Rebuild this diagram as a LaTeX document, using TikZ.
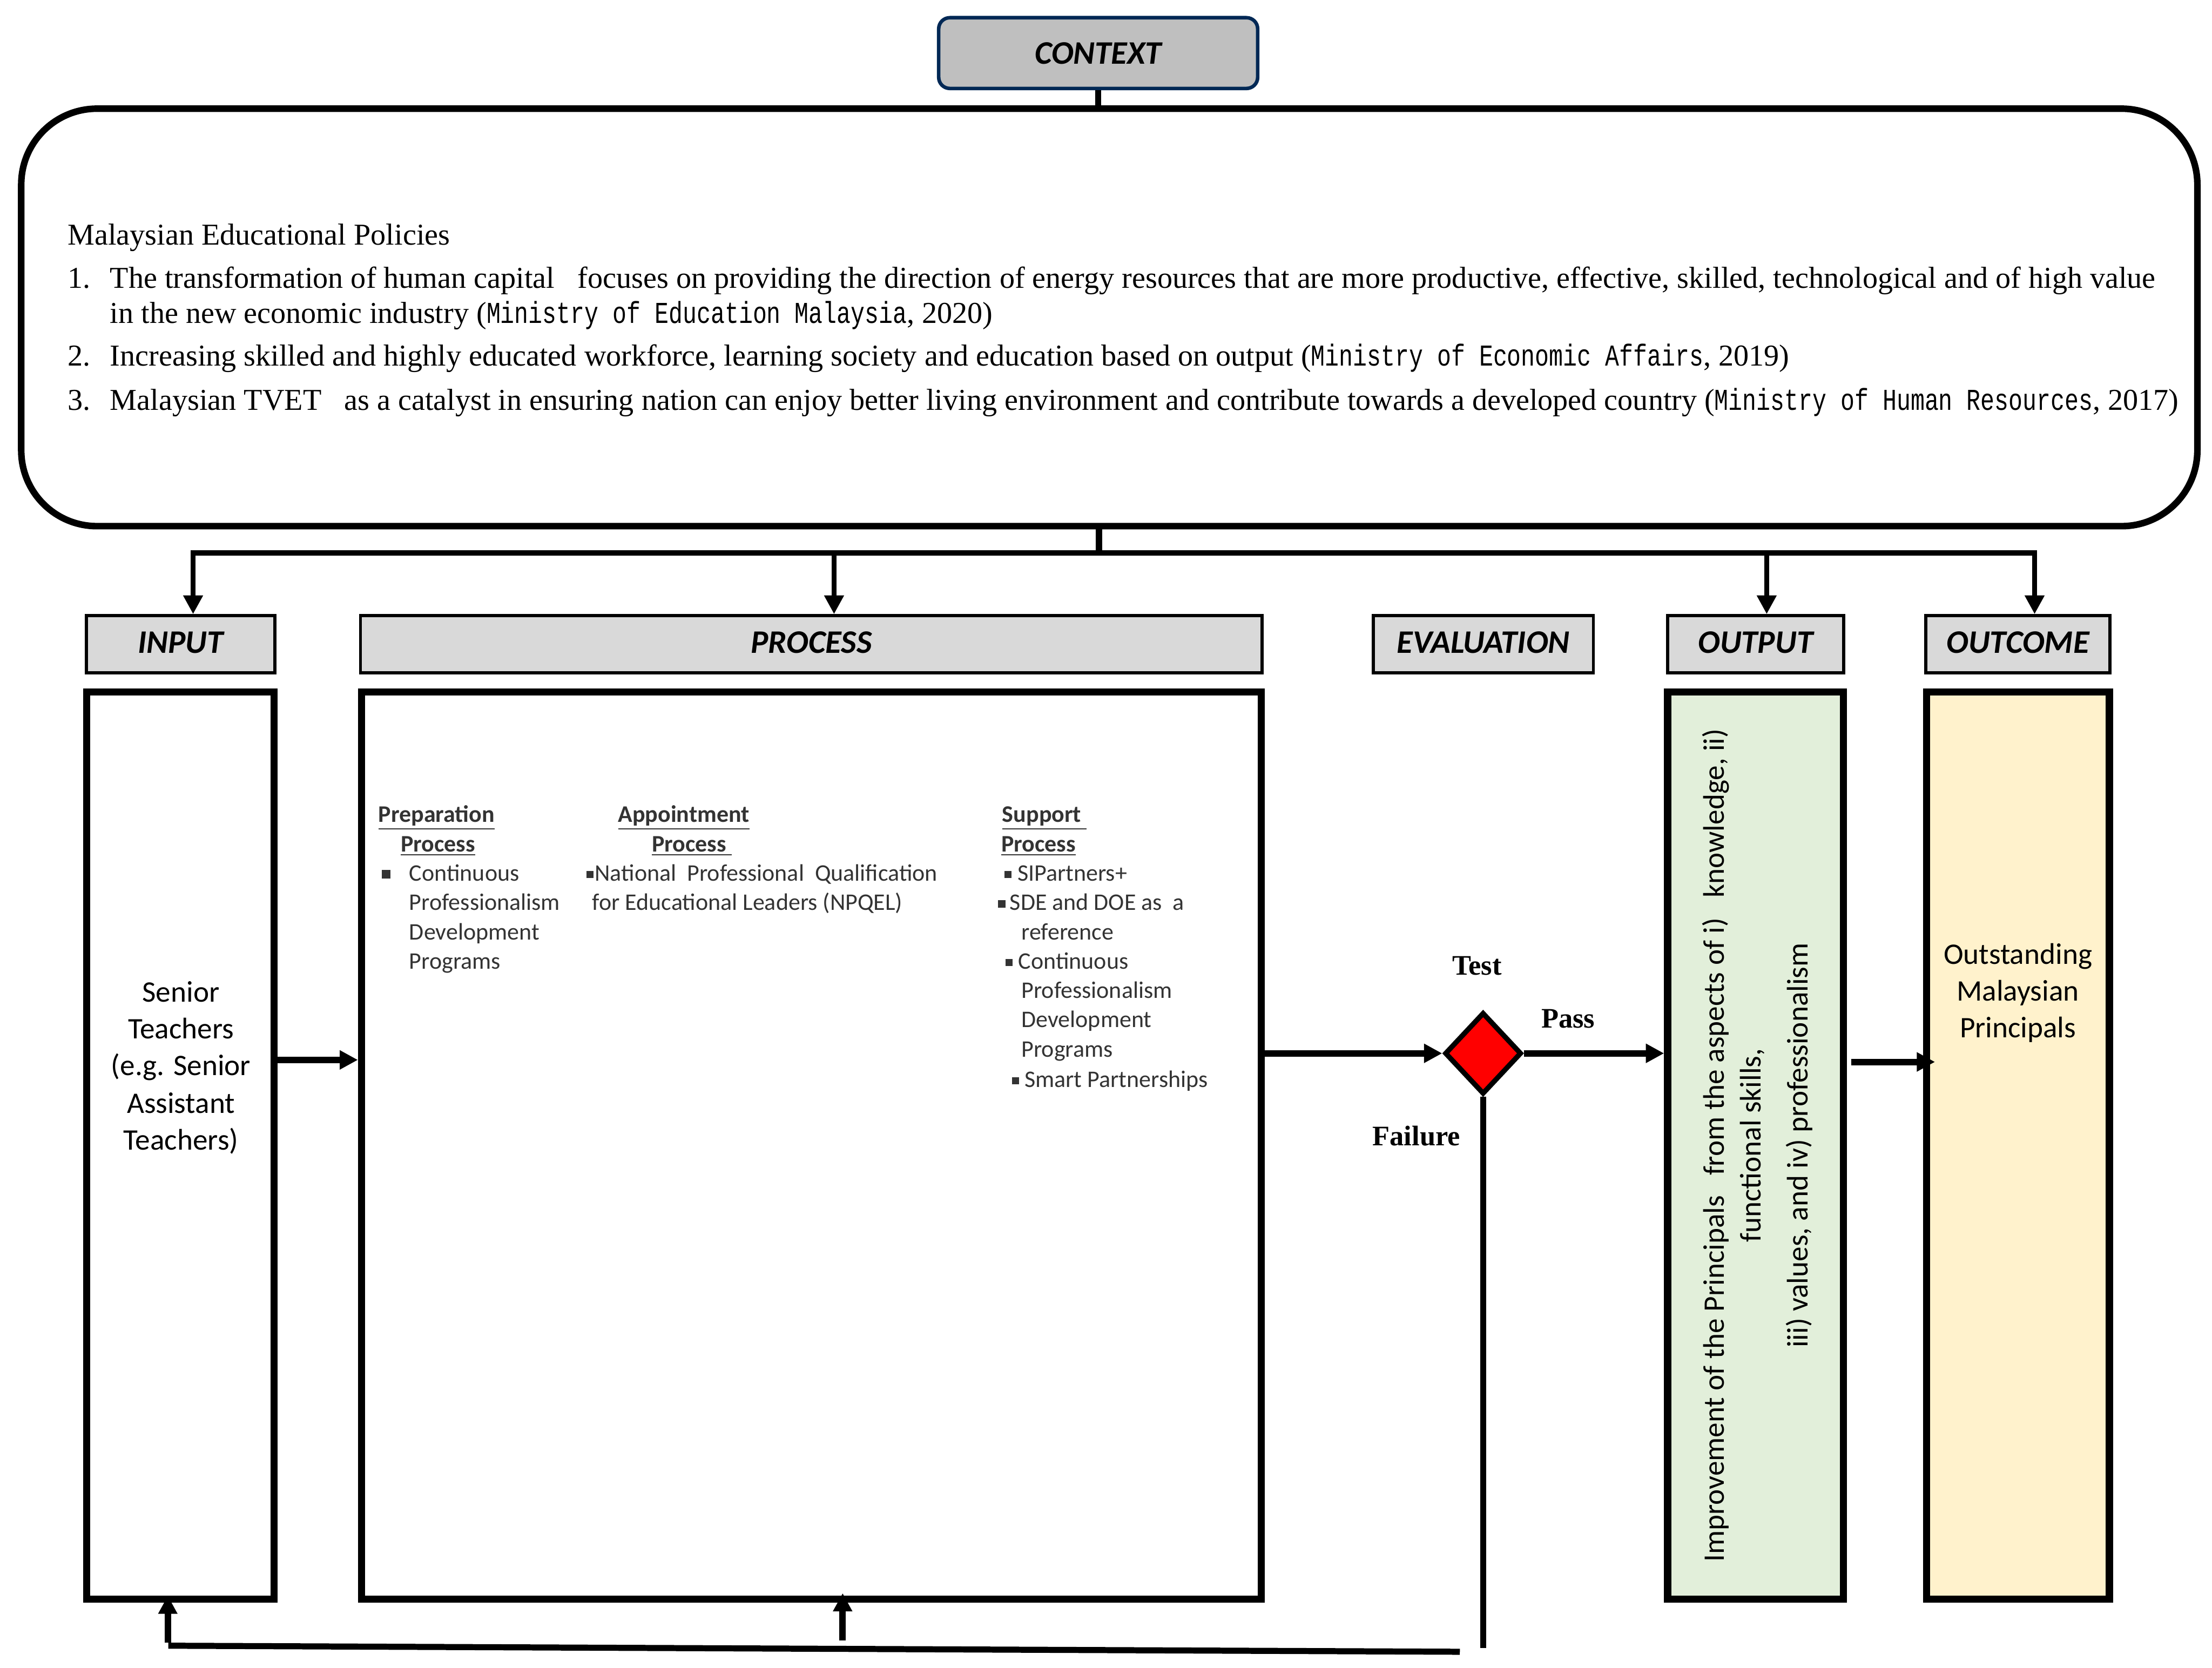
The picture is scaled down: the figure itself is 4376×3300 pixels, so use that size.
\documentclass[tikz,border=0pt]{standalone}
\usepackage{fontspec}
\setmainfont{Liberation Serif}
\newfontfamily\calfont{Carlito}
\newfontfamily\citefont{Liberation Mono}
\usetikzlibrary{arrows.meta,shapes.geometric,calc}
\definecolor{ctxnavy}{RGB}{0,40,85}
\definecolor{ctxgray}{RGB}{191,191,191}
\definecolor{hdrgray}{RGB}{217,217,217}
\definecolor{outgreen}{RGB}{226,239,218}
\definecolor{outcyellow}{RGB}{255,242,204}
\newcommand{\sqb}{\raisebox{0.12em}{\rule{0.3em}{0.3em}}}
\newcommand{\bigsqb}{\raisebox{0.1em}{\rule{0.36em}{0.36em}}}
\newcommand{\cit}[1]{\scalebox{0.77}[1]{\citefont #1}}
\newcommand{\hup}[1]{\raisebox{1.6pt}{#1}}
\begin{document}
\begin{tikzpicture}[x=0.25pt,y=-0.25pt,
  hdr/.style={draw=black,line width=1.5pt,fill=hdrgray,minimum height=28.25pt,inner sep=0pt,
    font=\calfont\bfseries\itshape\fontsize{16.25pt}{19pt}\selectfont},
  mbox/.style={draw=black,line width=3.5pt,minimum height=448.75pt,inner sep=0pt},
  ctxt/.style={anchor=base west,inner sep=0pt,font=\fontsize{15pt}{18pt}\selectfont},
  ptext/.style={anchor=base west,inner sep=0pt,text=black!80,font=\calfont\fontsize{11.75pt}{14pt}\selectfont},
  itext/.style={anchor=base,inner sep=0pt,font=\calfont\fontsize{14.75pt}{18pt}\selectfont},
  otext/.style={rotate=90,inner sep=0pt,font=\calfont\fontsize{14.75pt}{18pt}\selectfont},
  lbl/.style={inner sep=0pt,font=\bfseries\fontsize{14pt}{16pt}\selectfont},
  conn/.style={line width=3pt},
  bus/.style={line width=2.5pt,line cap=rect},
  arrthin/.style={line width=2.6pt,-{Triangle[length=9.25pt,width=9.25pt]}},
  arrthick/.style={line width=3.2pt,-{Triangle[length=9pt,width=9pt]}},
  thk/.style={line width=3pt}]
\useasboundingbox (0,0) rectangle (4376,3300);

% context
\node[draw=ctxnavy,line width=1.75pt,fill=ctxgray,rounded corners=5.5pt,minimum width=157.75pt,
  minimum height=35pt,inner sep=0pt,font=\calfont\bfseries\itshape\fontsize{16.25pt}{19pt}\selectfont]
  (ctx) at (2172.5,105) {CONTEXT};
\node[draw=black,line width=3.25pt,rounded corners=37.5pt,minimum width=1076.25pt,
  minimum height=206.5pt,inner sep=0pt] (big) at (2194.5,628) {};
\draw[conn] (ctx.south) -- (ctx.south |- big.north);

\node[ctxt] (t0) at (133,484) {Malaysian Educational Policies};
\node[ctxt] (n1) at (133,570) {1.};
\node[ctxt] (t1) at (217,570) {The transformation of human capital\ \ \ focuses on providing the direction of energy resources that are more productive, effective, skilled, technological and of high value};
\node[ctxt] (t1b) at (217,639) {in the new economic industry (\cit{Ministry of Education Malaysia}, 2020)};
\node[ctxt] (n2) at (133,724) {2.};
\node[ctxt] (t2) at (217,724) {Increasing skilled and highly educated workforce, learning society and education based on output (\cit{Ministry of Economic Affairs}, 2019)};
\node[ctxt] (n3) at (133,811) {3.};
\node[ctxt] (t3) at (217,811) {Malaysian TVET\ \ \ as a catalyst in ensuring nation can enjoy better living environment and contribute towards a developed country (\cit{Ministry of Human Resources}, 2017)};

% headers
\node[hdr,minimum width=93.25pt] (hin) at (357.5,1274.5) {\hup{INPUT}};
\node[hdr,minimum width=446pt] (hproc) at (1605,1274.5) {\hup{PROCESS}};
\node[hdr,minimum width=108.75pt] (heval) at (2934.5,1274.5) {\hup{EVALUATION}};
\node[hdr,minimum width=87pt] (hout) at (3473,1274.5) {\hup{OUTPUT}};
\node[hdr,minimum width=91pt] (houtc) at (3992,1274.5) {\hup{OUTCOME}};

% bus
\coordinate (bus) at (2174,1094);
\coordinate (d1) at (382,1094);
\coordinate (d2) at (1650,1094);
\coordinate (d3) at (3495,1094);
\coordinate (d4) at (4025,1094);
\draw[conn] (bus |- big.south) -- (bus);
\draw[bus] (d1) -- (d4);
\draw[arrthin] (d1) -- (d1 |- hin.north);
\draw[arrthin] (d2) -- (d2 |- hproc.north);
\draw[arrthin] (d3) -- (d3 |- hout.north);
\draw[arrthin] (d4) -- (d4 |- houtc.north);

% main boxes
\node[mbox,minimum width=92.75pt] (inbox) at (356.5,2266.5) {};
\node[mbox,minimum width=445pt] (procbox) at (1605,2266.5) {};
\node[mbox,minimum width=87pt,fill=outgreen] (outbox) at (3473,2266.5) {};
\node[mbox,minimum width=90.5pt,fill=outcyellow] (outcbox) at (3992,2266.5) {};

% input text
\node[itext] (i1) at (358,1982) {Senior};
\node[itext] (i2) at (358,2055) {Teachers};
\node[itext] (i3) at (358,2128) {(e.g. Senior};
\node[itext] (i4) at (358,2202) {Assistant};
\node[itext] (i5) at (358,2275) {Teachers)};

% process column 1
\node[ptext] (c1a) at (748,1627) {\underline{\textbf{Preparation}}};
\node[ptext] (c1b) at (792,1685) {\underline{\textbf{Process}}};
\node[ptext] (c1c) at (755,1743) {\bigsqb};
\node[ptext] (c1d) at (809,1743) {Continuous};
\node[ptext] (c1e) at (809,1801) {Professionalism};
\node[ptext] (c1f) at (809,1859) {Development};
\node[ptext] (c1g) at (809,1917) {Programs};
% process column 2
\node[ptext] (c2a) at (1222,1627) {\underline{\textbf{Appointment}}};
\node[ptext] (c2b) at (1289,1685) {\underline{\textbf{Process\ }}};
\node[ptext] (c2c) at (1159,1743) {\sqb};
\node[ptext] (c2d) at (1176,1743) {National\ \ Professional\ \ Qualification};
\node[ptext] (c2e) at (1171,1801) {for Educational Leaders (NPQEL)};
% process column 3
\node[ptext] (c3a) at (1982,1627) {\underline{\textbf{Support\ }}};
\node[ptext] (c3b) at (1980,1685) {\underline{\textbf{Process}}};
\node[ptext] (c3c) at (1986,1743) {\sqb};
\node[ptext] (c3d) at (2012,1743) {SIPartners+};
\node[ptext] (c3e) at (1974,1801) {\sqb};
\node[ptext] (c3f) at (1997,1801) {SDE and DOE as\ \ a};
\node[ptext] (c3g) at (2020,1859) {reference};
\node[ptext] (c3h) at (1988,1917) {\sqb};
\node[ptext] (c3i) at (2014,1917) {Continuous};
\node[ptext] (c3j) at (2020,1975) {Professionalism};
\node[ptext] (c3k) at (2020,2033) {Development};
\node[ptext] (c3l) at (2020,2091) {Programs};
\node[ptext] (c3m) at (2001,2151) {\sqb};
\node[ptext] (c3n) at (2026,2151) {Smart Partnerships};

% output text
\node[otext] (o1) at (3394,2266) {Improvement of the Principals\ \ \ from the aspects of i)\ \ \ knowledge, ii)};
\node[otext] (o2) at (3467,2266) {functional skills,};
\node[otext] (o3) at (3559,2266) {iii) values, and iv) professionalism};

% outcome text
\node[itext] (oc1) at (3992,1907) {Outstanding};
\node[itext] (oc2) at (3992,1980) {Malaysian};
\node[itext] (oc3) at (3992,2053) {Principals};

% evaluation
\node[diamond,draw=black,line width=2.5pt,fill=red,minimum width=38pt,minimum height=40.5pt,inner sep=0pt] (dia) at (2934,2084) {};
\node[lbl] (ltest) at (2922,1911) {Test};
\node[lbl] (lpass) at (3102,2016) {Pass};
\node[lbl] (lfail) at (2802,2247) {Failure};

% horizontal arrows
\coordinate (y1) at (0,2097);
\coordinate (y2) at (0,2101);
\draw[arrthick] (inbox.east |- y1) -- (procbox.west |- y1);
\draw[arrthick] (procbox.east |- dia.west) -- (dia.west);
\draw[arrthick] (dia.east) -- (outbox.west |- dia.east);
\draw[arrthick] ($(outbox.east |- y2)+(8,0)$) -- ($(outcbox.west |- y2)+(24,0)$);

% failure loop
\coordinate (f1) at (2932,3261);
\coordinate (r1) at (333,3256);
\coordinate (r2) at (2888,3268);
\draw[thk] (dia.south) -- (dia.south |- f1);
\draw[thk] (r1) -- (r2);
\coordinate (u1) at (332,3250);
\coordinate (u2) at (1667,3246);
\draw[arrthick] (u1) -- ($(u1 |- inbox.south)+(0,-14)$);
\draw[arrthick] (u2) -- ($(u2 |- procbox.south)+(0,-19)$);
\end{tikzpicture}
\end{document}
